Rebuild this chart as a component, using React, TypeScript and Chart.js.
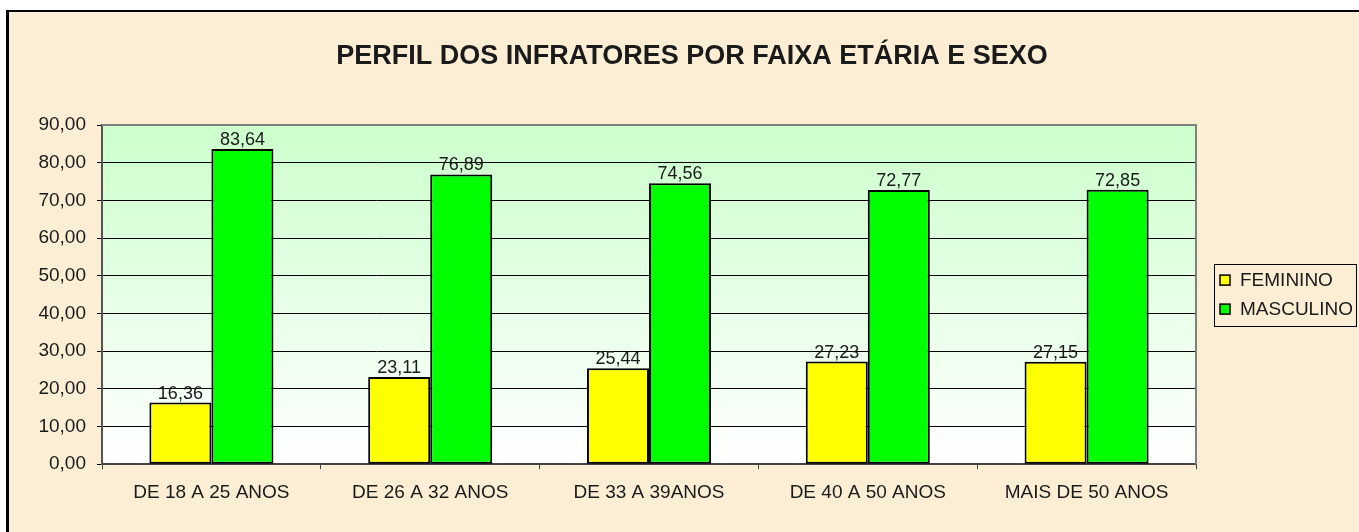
import { useEffect, useRef } from 'react';
import { Chart, registerables } from 'chart.js';

Chart.register(...registerables);

const categories = ['DE 18 A 25 ANOS', 'DE 26 A 32 ANOS', 'DE 33 A 39ANOS', 'DE 40 A 50 ANOS', 'MAIS DE 50 ANOS'];
const seriesNames = ['FEMININO', 'MASCULINO'];
const feminino = [16.36, 23.11, 25.44, 27.23, 27.15];
const masculino = [83.64, 76.89, 74.56, 72.77, 72.85];
const titleText = 'PERFIL DOS INFRATORES POR FAIXA ETÁRIA E SEXO';
const yMin = 0;
const yMax = 90;
const yStep = 10;

const FONT = '"Liberation Sans", Arial, sans-serif';
const TEXT = '#1a1a1a';

const fmt = (v: number) => v.toFixed(2).replace('.', ',');

const decorPlugin = {
  id: 'decor',
  beforeDraw(chart: any) {
    const { ctx, width, height, chartArea: a } = chart;
    ctx.save();
    ctx.fillStyle = '#ffffff';
    ctx.fillRect(0, 0, width, height);
    ctx.fillStyle = '#FBEED4';
    ctx.fillRect(8, 12, width, height);
    ctx.fillStyle = '#000000';
    ctx.fillRect(6, 10, width, 2);
    ctx.fillRect(6, 10, 3, height);
    const g = ctx.createLinearGradient(0, a.top, 0, a.bottom);
    g.addColorStop(0, '#CCFFCC');
    g.addColorStop(1, '#FFFFFF');
    ctx.fillStyle = g;
    ctx.fillRect(a.left, a.top, a.right - a.left, a.bottom - a.top);
    ctx.restore();
  },
  afterDraw(chart: any) {
    const { ctx, width, chartArea: a } = chart;
    ctx.save();
    // plot border top & right
    ctx.strokeStyle = '#808080';
    ctx.lineWidth = 2;
    ctx.beginPath();
    ctx.moveTo(a.left, a.top);
    ctx.lineTo(a.right, a.top);
    ctx.lineTo(a.right, a.bottom);
    ctx.stroke();

    // title
    ctx.fillStyle = TEXT;
    ctx.font = `bold 27px ${FONT}`;
    ctx.textAlign = 'center';
    ctx.textBaseline = 'middle';
    ctx.fillText(titleText, (width + 25) / 2, 57);

    // data labels
    ctx.font = `18px ${FONT}`;
    ctx.textBaseline = 'alphabetic';
    chart.data.datasets.forEach((ds: any, di: number) => {
      const meta = chart.getDatasetMeta(di);
      meta.data.forEach((el: any, i: number) => {
        ctx.fillText(fmt(ds.data[i]), el.x, el.y - 4);
      });
    });

    // legend
    ctx.font = `19px ${FONT}`;
    ctx.textAlign = 'left';
    ctx.textBaseline = 'middle';
    const texts = chart.data.datasets.map((d: any) => d.label);
    const tw = Math.max(...texts.map((t: string) => ctx.measureText(t).width));
    const bx = a.right + 18;
    const bh = 62;
    const cy = (a.top + a.bottom) / 2;
    const by = cy - bh / 2;
    const bw = 6 + 10 + 10 + tw + 3;
    ctx.strokeStyle = '#000';
    ctx.lineWidth = 1;
    ctx.strokeRect(Math.round(bx) + 0.5, Math.round(by) + 0.5, bw, bh);
    chart.data.datasets.forEach((ds: any, di: number) => {
      const ry = cy + (di === 0 ? -14.5 : 14.5);
      ctx.fillStyle = ds.backgroundColor;
      ctx.fillRect(bx + 6, ry - 5, 10, 10);
      ctx.strokeStyle = '#000';
      ctx.lineWidth = 1.5;
      ctx.strokeRect(bx + 6, ry - 5, 10, 10);
      ctx.fillStyle = TEXT;
      ctx.fillText(ds.label, bx + 26, ry + 1);
    });
    ctx.restore();
  },
};

export default function App() {
  const ref = useRef<HTMLCanvasElement | null>(null);
  useEffect(() => {
    if (!ref.current) return;
    const chart = new Chart(ref.current, {
      type: 'bar',
      data: {
        labels: categories,
        datasets: [
          {
            label: seriesNames[0],
            data: feminino,
            backgroundColor: '#FFFF00',
            borderColor: '#000000',
            borderWidth: 2,
            borderSkipped: false,
          },
          {
            label: seriesNames[1],
            data: masculino,
            backgroundColor: '#00FF00',
            borderColor: '#000000',
            borderWidth: 2,
            borderSkipped: false,
          },
        ],
      },
      options: {
        responsive: false,
        animation: false,
        events: [],
        layout: { padding: { left: 38, right: 163, top: 125, bottom: 16 } },
        datasets: { bar: { categoryPercentage: 0.567, barPercentage: 1 } },
        plugins: {
          legend: { display: false },
          title: { display: false },
          tooltip: { enabled: false },
        },
        scales: {
          x: {
            grid: {
              offset: true,
              drawOnChartArea: false,
              drawTicks: true,
              tickLength: 5,
              color: '#444',
              lineWidth: 1,
            },
            border: { color: '#444', width: 2 },
            ticks: {
              color: TEXT,
              font: { family: FONT, size: 19 },
              padding: 12,
              maxRotation: 0,
              autoSkip: false,
            },
          },
          y: {
            min: yMin,
            max: yMax,
            afterFit(scale: any) {
              scale.width = 64;
            },
            grid: {
              color: (c: any) => (c.tick && (c.tick.value === yMax || c.tick.value === yMin) ? 'rgba(0,0,0,0)' : '#000000'),
              tickColor: '#000000',
              lineWidth: 1,
              tickLength: 5,
            },
            border: { color: '#555', width: 2 },
            ticks: {
              stepSize: yStep,
              color: TEXT,
              font: { family: FONT, size: 19 },
              padding: 11,
              callback: (v: any) => fmt(Number(v)),
            },
          },
        },
      },
      plugins: [decorPlugin],
    });
    return () => chart.destroy();
  }, []);
  return (
    <div style={{ position: 'fixed', left: 0, top: 0, width: 1359, height: 532 }}>
      <canvas ref={ref} width={1359} height={532} style={{ display: 'block' }} />
    </div>
  );
}
